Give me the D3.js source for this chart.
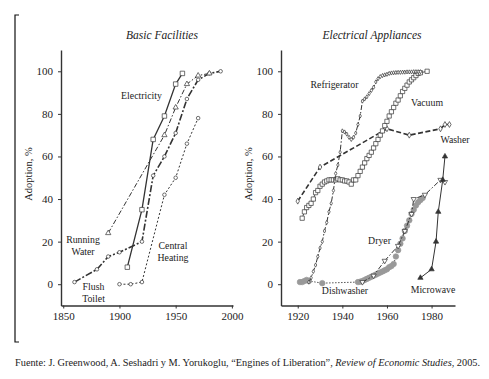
<!DOCTYPE html>
<meta charset="utf-8">
<script src="https://d3js.org/d3.v7.min.js"></script>
<style>
  body { margin: 0; background: #fff; }
  text { font-family: "Liberation Serif", "DejaVu Serif", serif; fill: #222; }
</style>
<div id="chart"></div>
<script>

// ---- data ([year, % adoption]) ----
var electricity    = [[1907,8],[1920,35],[1930,68],[1940,79],[1950,94],[1956,99]]
var runningWater   = [[1890,24],[1940,70],[1950,83],[1960,94],[1970,98],[1980,99]]
var flushToilet    = [[1860,1],[1880,7],[1890,13],[1900,15],[1920,20],[1930,51],[1940,60],[1950,71],[1960,87],[1970,96],[1980,99],[1990,100]]
var centralHeating = [[1900,0],[1910,0],[1920,1],[1940,42],[1950,50],[1960,66],[1970,78]]

var refrigerator = [[1925,1],[1926,3],[1927,6],[1928,9],[1929,13],[1930,17],[1931,20],[1932,25],[1933,29],[1934,34],
  [1935,38],[1936,44],[1937,52],[1938,56],[1939,62],[1940,72],[1941,71.5],[1942,70.5],[1943,69],[1944,68],[1945,69],
  [1946,71],[1947,75],[1948,79],[1949,86],[1950,87],[1951,88],[1952,89.5],[1953,91],[1954,92.5],[1955,95],[1956,96.5],
  [1957,97.5],[1958,98],[1959,98.3],[1960,98.6],[1961,99],[1962,99.2],[1963,99.3],[1964,99.4],[1965,99.5],[1966,99.5],
  [1967,99.6],[1968,99.6],[1969,99.7],[1970,99.7],[1971,99.7],[1972,99.8],[1973,99.8],[1974,99.8],[1975,99.8]]
var vacuum = [[1922,31],[1923,34],[1924,36],[1925,37],[1926,38],[1927,40],[1928,43],[1929,44],[1930,46],[1931,47],
  [1932,48],[1933,48.5],[1934,49],[1935,49],[1936,49],[1937,49],[1938,49.5],[1939,49],[1940,49],[1941,48.5],[1942,48.5],
  [1943,48],[1944,47],[1945,49],[1946,49],[1947,51],[1948,53],[1949,55],[1950,57],[1951,59],[1952,60.5],[1953,62],
  [1954,64],[1955,66],[1956,68],[1957,70],[1958,72],[1959,74.5],[1960,76.5],[1961,79],[1962,81],[1963,83],[1964,85],
  [1965,86.5],[1966,88.5],[1967,90.5],[1968,92],[1969,93.5],[1970,95],[1971,96],[1972,97],[1973,98],[1974,99],
  [1975,99.3],[1978,100]]
var washer = [[1920,39],[1930,55],[1960,73],[1970,70],[1984,73],[1986,75],[1988,75]]
var dishwasher = [[1921,1],[1922,1],[1923,1.5],[1924,2],[1925,1.5],[1931,0.5],[1947,1],[1948,1.2],[1949,1.5],[1950,2],
  [1951,2.5],[1952,3],[1953,3.5],[1954,4],[1955,4.5],[1956,5],[1957,5.5],[1958,6],[1959,6.5],[1960,7],[1961,8],
  [1962,8.5],[1963,9.5],[1964,13],[1965,16],[1966,19],[1967,21.5],[1968,25],[1969,27.5],[1970,30],[1971,33],[1972,35],
  [1973,37],[1974,38.5],[1975,39.5],[1976,40.5]]
var dryer     = [[1949,1],[1954,4],[1959,11],[1965,18],[1968,25],[1971,33],[1972,40],[1977,42],[1984,49],[1986,48]]
var microwave = [[1975,3],[1980,7],[1982,20],[1983,34],[1985,49],[1986,60]]

var yTicks = [0, 20, 40, 60, 80, 100]
var xTicksLeft = [1850, 1900, 1950, 2000]
var xTicksRight = [1920, 1940, 1960, 1980]

var svg = d3.select("#chart").append("svg")
    .attr("width", 489)
    .attr("height", 379)

// bracket on the left
svg.append("path")
  .attr("d", "M19,15H15V342H19")
  .attr("fill", "none").attr("stroke", "#111").attr("stroke-width", 1.2)

// build one panel
function panel(xDomain, xRange, xTicks, title, titleX) {
  var x = d3.scaleLinear().domain(xDomain).range(xRange)
  var y = d3.scaleLinear().domain([-10, 110]).range([305.5, 50])
  var g = svg.append("g")

  g.append("g")
    .attr("transform", "translate(0,305.5)")
    .call(d3.axisBottom(x).tickValues(xTicks).tickFormat(d3.format("d")).tickSize(3).tickSizeOuter(0).tickPadding(4))
  g.append("g")
    .attr("transform", "translate(" + xRange[0] + ",0)")
    .call(d3.axisLeft(y).tickValues(yTicks).tickSize(3).tickSizeOuter(0).tickPadding(5))

  g.selectAll(".domain").attr("stroke", "#333").attr("stroke-width", 1.4)
  g.selectAll(".tick line").attr("stroke", "#333")
  g.selectAll(".tick text").attr("font-size", 11).attr("font-family", "Liberation Serif").attr("fill", "#222")

  g.append("text")
    .attr("x", titleX).attr("y", 39)
    .attr("text-anchor", "middle")
    .attr("font-size", 11.5).attr("font-style", "italic")
    .text(title)

  g.append("text")
    .attr("transform", "translate(" + (xRange[0] - 29) + ",174) rotate(-90)")
    .attr("text-anchor", "middle")
    .attr("font-size", 10.5)
    .text("Adoption, %")

  return {g: g, x: x, y: y}
}

function series(p, data, o) {
  var line = d3.line().x(function(d) { return p.x(d[0]) }).y(function(d) { return p.y(d[1]) })
  p.g.append("path")
    .datum(data)
    .attr("d", line)
    .attr("fill", "none")
    .attr("stroke", o.stroke || "#333")
    .attr("stroke-width", o.width || 1)
    .attr("stroke-dasharray", o.dash || null)

  var sym = d3.symbol().type(o.symbol).size(o.size)
  p.g.selectAll(null)
    .data(data)
    .enter()
    .append("path")
      .attr("d", sym)
      .attr("transform", function(d) {
        return "translate(" + p.x(d[0]) + "," + p.y(d[1]) + ")" + (o.rotate ? " rotate(" + o.rotate + ")" : "")
      })
      .attr("fill", o.fill || "#fff")
      .attr("stroke", o.markStroke || "#333")
      .attr("stroke-width", o.markWidth || 0.7)
}

function label(p, txt, cx, cy) {
  var lines = txt.split("\n")
  lines.forEach(function(t, i) {
    p.g.append("text")
      .attr("x", cx).attr("y", cy + i * 12)
      .attr("text-anchor", "middle")
      .attr("font-size", 9.8)
      .text(t)
  })
}

// ---- Basic Facilities ----
var left = panel([1848, 2001], [61, 233], xTicksLeft, "Basic Facilities", 162)

series(left, centralHeating, {symbol: d3.symbolCircle, size: 10, dash: "2,2", width: 1})
series(left, flushToilet, {symbol: d3.symbolCircle, size: 10, dash: "7,2,2,2", width: 1.6})
series(left, runningWater, {symbol: d3.symbolTriangle, size: 12, dash: "5,2,1.5,2", width: 1})
series(left, electricity, {symbol: d3.symbolSquare, size: 20, width: 1.3})

label(left, "Electricity", 141.5, 99)
label(left, "Running\nWater", 83, 243)
label(left, "Flush\nToilet", 93.5, 290)
label(left, "Central\nHeating", 173, 249)

// ---- Electrical Appliances ----
var right = panel([1912.5, 1990.5], [281, 455], xTicksRight, "Electrical Appliances", 372)

series(right, dishwasher, {symbol: d3.symbolCircle, size: 24, dash: "1.5,1.5", width: 1, stroke: "#555", fill: "#999", markStroke: "#999"})
series(right, dryer, {symbol: d3.symbolTriangle, size: 12, rotate: 180, dash: "5,2,1.5,2", width: 1})
series(right, washer, {symbol: d3.symbolDiamond, size: 10, dash: "5,2.5", width: 1.6})
series(right, vacuum, {symbol: d3.symbolSquare, size: 18, width: 0.8})
series(right, refrigerator, {symbol: d3.symbolDiamond, size: 5, dash: "5,2,1.5,2", width: 1})
series(right, microwave, {symbol: d3.symbolTriangle, size: 12, width: 1, fill: "#333"})

label(right, "Refrigerator", 334.5, 88)
label(right, "Vacuum", 427, 106)
label(right, "Washer", 455, 143)
label(right, "Dryer", 379.5, 244)
label(right, "Dishwasher", 345, 294)
label(right, "Microwave", 433, 293)

// ---- source line ----
var src = svg.append("text")
  .attr("x", 15).attr("y", 366)
  .attr("font-size", 10.3)
src.append("tspan").text("Fuente: J. Greenwood, A. Seshadri y M. Yorukoglu, \u201cEngines of Liberation\u201d, ")
src.append("tspan").attr("font-style", "italic").text("Review of Economic Studies")
src.append("tspan").text(", 2005.")

</script>
